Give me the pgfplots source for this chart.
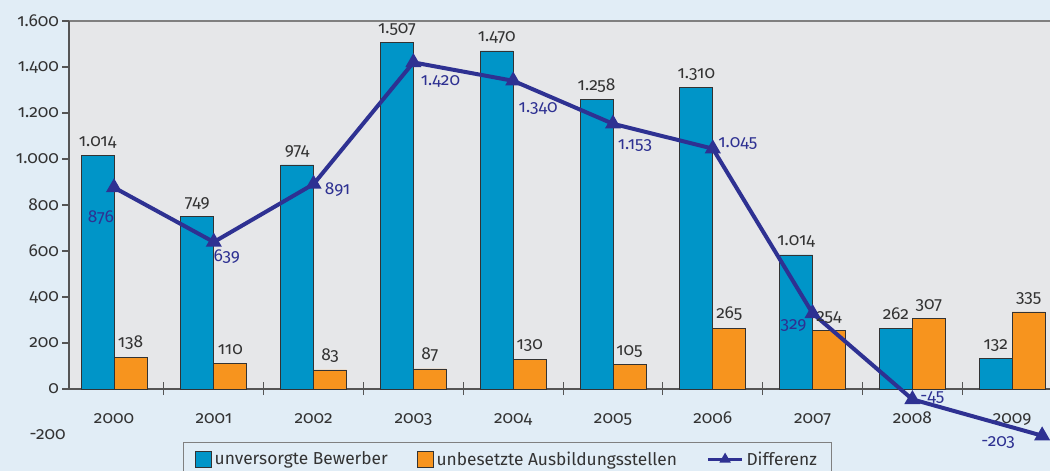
\documentclass[border=0pt]{standalone}
\usepackage{pgfplots}
\pgfplotsset{compat=1.18}
\usepackage{fontspec}
\setmainfont{Fira Sans}[Numbers=OldStyle]

\definecolor{bgblue}{HTML}{E1EDF6}
\definecolor{plotgrey}{HTML}{E6E7E9}
\definecolor{barblue}{HTML}{0095C8}
\definecolor{barorange}{HTML}{F7941E}
\definecolor{diffline}{HTML}{2E3192}
\definecolor{txt}{HTML}{333333}
\definecolor{axisgrey}{HTML}{555555}

\pgfplotsset{
  squarelegend/.style={legend image code/.code={\draw[##1] (0pt,-6pt) rectangle (12pt,6pt);}},
  linelegend/.style={legend image code/.code={\draw[##1, line width=2.2pt, mark size=2.8pt, mark repeat=2, mark phase=2]
      plot coordinates {(0pt,0pt) (13pt,0pt) (26pt,0pt)};}},
}

\begin{document}
\begin{tikzpicture}[font=\fontsize{13}{15}\selectfont]
  \clip (0,0) rectangle (787.5pt,-353.25pt);
  \fill[bgblue] (0,0) rectangle (787.5pt,-353.25pt);
  % grey area only between 0 and 1600
  \fill[plotgrey] (51.75pt,-15.75pt) rectangle (795pt,-291.75pt);
  \draw[gray, line width=0.8pt] (51.75pt,-15.75pt) -- (795pt,-15.75pt);
  \draw[axisgrey, line width=0.9pt] (51.75pt,-15.75pt) -- (51.75pt,-291.75pt);
  \begin{axis}[
      at={(51.75pt,-360.75pt)}, anchor=south west,
      scale only axis, width=743.25pt, height=345pt,
      xmin=-0.451, xmax=9.479, ymin=-400, ymax=1600,
      axis x line*=middle, axis y line*=left,
      y axis line style={draw=none},
      x axis line style={axisgrey, line width=0.9pt},
      tick align=outside,
      xtick={0,...,9},
      xticklabels={2000,2001,2002,2003,2004,2005,2006,2007,2008,2009},
      major x tick style={draw=none},
      minor xtick={0.5,1.5,...,8.5},
      minor tick length=9.5pt,
      minor x tick style={axisgrey, line width=0.8pt, yshift=5pt},
      xticklabel style={anchor=base, yshift=-20.5pt, text=txt},
      ytick={0,200,...,1600},
      extra y ticks={-200,-400},
      extra y tick style={major tick length=0pt},
      major tick length=5pt,
      y tick style={axisgrey, line width=0.8pt},
      yticklabel style={text=txt, xshift=1pt},
      /pgf/number format/.cd, 1000 sep={.}, assume math mode=true, /pgfplots/.cd,
      clip=false,
      legend columns=3,
      legend style={at={(axis cs:0.691,-230)}, anchor=north west,
        draw=gray, fill=bgblue, text=txt, font=\fontsize{13}{15}\selectfont,
        inner xsep=9pt, inner ysep=5pt,
        /tikz/every even column/.append style={column sep=20pt}},
    ]
    \addplot[ybar, bar width=0.33, bar shift=-0.165, fill=barblue, draw=black!80, line width=0.6pt,
      nodes near coords, point meta=explicit symbolic,
      every node near coord/.append style={anchor=base, yshift=7pt, xshift=-12.35pt, text=txt},
      squarelegend]
      coordinates {(0,1014) [1.014] (1,749) [749] (2,974) [974] (3,1507) [1.507] (4,1470) [1.470]
        (5,1258) [1.258] (6,1310) [1.310] (7,583) [1.014] (8,262) [262] (9,132) [132]};
    \addplot[ybar, bar width=0.33, bar shift=0.165, fill=barorange, draw=black!80, line width=0.6pt,
      nodes near coords, point meta=explicit symbolic,
      every node near coord/.append style={anchor=base, yshift=7pt, xshift=12.35pt, text=txt},
      squarelegend]
      coordinates {(0,138) [138] (1,110) [110] (2,83) [83] (3,87) [87] (4,130) [130]
        (5,105) [105] (6,265) [265] (7,254) [254] (8,307) [307] (9,335) [335]};
    \addplot[diffline, line width=3pt, mark=triangle*, mark size=4pt,
      mark options={solid, draw=none, fill=diffline}, linelegend]
      coordinates {(0,876) (1,639) (2,891) (3,1420) (4,1340) (5,1153) (6,1045) (7,329) (8,-45) (9.3,-203)};
    \legend{unversorgte Bewerber, unbesetzte Ausbildungsstellen, Differenz\hspace{16pt}}
    % labels of the Differenz line
    \node[text=diffline, xshift=-9.75pt, yshift=-22.5pt] at (axis cs:0,876) {876};
    \node[text=diffline, xshift=9.75pt, yshift=-11.25pt] at (axis cs:1,639) {639};
    \node[text=diffline, xshift=18pt, yshift=-4.5pt] at (axis cs:2,891) {891};
    \node[text=diffline, xshift=20.25pt, yshift=-14.25pt] at (axis cs:3,1420) {1.420};
    \node[text=diffline, xshift=18.75pt, yshift=-21pt] at (axis cs:4,1340) {1.340};
    \node[text=diffline, xshift=16.5pt, yshift=-16.5pt] at (axis cs:5,1153) {1.153};
    \node[text=diffline, xshift=18.75pt, yshift=3.75pt] at (axis cs:6,1045) {1.045};
    \node[text=diffline, xshift=-14.25pt, yshift=-9pt] at (axis cs:7,329) {329};
    \node[text=diffline, xshift=15pt, yshift=1.5pt] at (axis cs:8,-45) {-45};
    \node[text=diffline, xshift=-33pt, yshift=-5.25pt] at (axis cs:9.3,-203) {-203};
  \end{axis}
\end{tikzpicture}
\end{document}
